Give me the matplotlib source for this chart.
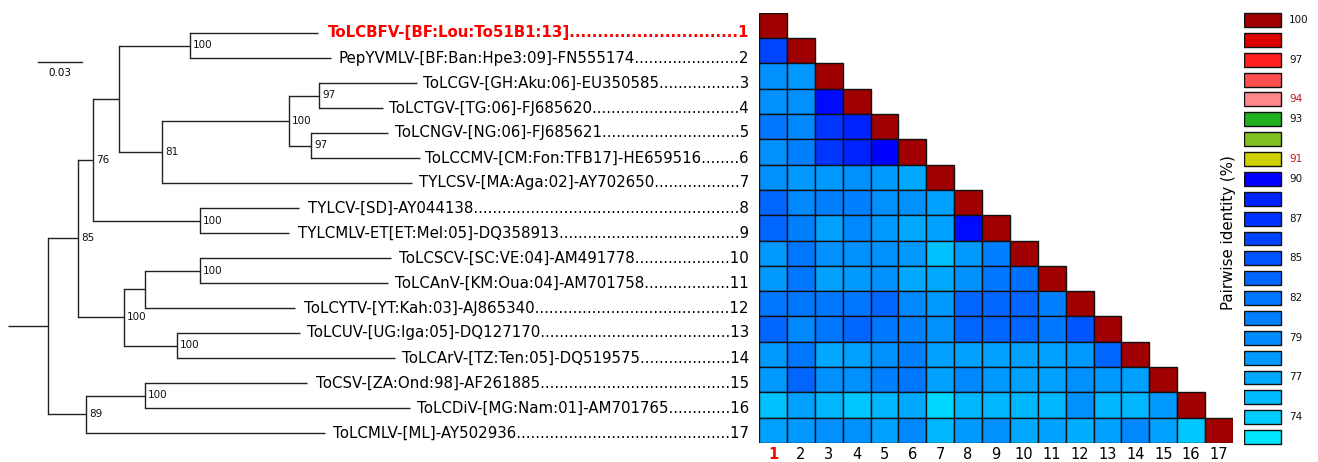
import matplotlib
matplotlib.use('Agg')
import matplotlib.pyplot as plt
import matplotlib.patches as mpatches
import matplotlib.transforms as mtransforms
from matplotlib.colors import LinearSegmentedColormap, Normalize
import numpy as np

W, H = 1318, 462

names = ['ToLCBFV-[BF:Lou:To51B1:13]', 'PepYVMLV-[BF:Ban:Hpe3:09]-FN555174',
         'ToLCGV-[GH:Aku:06]-EU350585', 'ToLCTGV-[TG:06]-FJ685620',
         'ToLCNGV-[NG:06]-FJ685621', 'ToLCCMV-[CM:Fon:TFB17]-HE659516',
         'TYLCSV-[MA:Aga:02]-AY702650', 'TYLCV-[SD]-AY044138',
         'TYLCMLV-ET[ET:Mel:05]-DQ358913', 'ToLCSCV-[SC:VE:04]-AM491778',
         'ToLCAnV-[KM:Oua:04]-AM701758', 'ToLCYTV-[YT:Kah:03]-AJ865340',
         'ToLCUV-[UG:Iga:05]-DQ127170', 'ToLCArV-[TZ:Ten:05]-DQ519575',
         'ToCSV-[ZA:Ond:98]-AF261885', 'ToLCDiV-[MG:Nam:01]-AM701765',
         'ToLCMLV-[ML]-AY502936']

# tree: leaf = (index, branch length), node = ([children], branch length, bootstrap)
tree = ([
    ([
        ([
            ([
                ([(0, 0.0873), (1, 0.0961)], 0.0484, 100),
                ([
                    ([
                        ([(2, 0.0668), (3, 0.0436)], 0.0205, 97),
                        ([(4, 0.0525), (5, 0.0743)], 0.0150, 97),
                    ], 0.0866, 100),
                    (6, 0.1705),
                ], 0.0293, 81),
            ], 0.0177, None),
            ([(7, 0.0675), (8, 0.0607)], 0.0730, 100),
        ], 0.0102, 76),
        ([
            ([
                ([(9, 0.1302), (10, 0.1282)], 0.0375, 100),
                (11, 0.1023),
            ], 0.0143, None),
            ([(12, 0.0839), (13, 0.1486)], 0.0361, 100),
        ], 0.0314, 100),
    ], 0.0205, 85),
    ([
        ([(14, 0.1105), (15, 0.1807)], 0.0402, 100),
        (16, 0.1630),
    ], 0.0259, 89),
], 0.0273, None)

# pairwise identity (%), lower triangle
identity = [
    [100],
    [86, 100],
    [78.7, 78, 100],
    [78.7, 78.7, 89.5, 100],
    [82, 79.5, 87, 88.5, 100],
    [78.7, 80.5, 87, 88.5, 90, 100],
    [78.7, 78, 78, 78.7, 78, 77.2, 100],
    [83.5, 79.5, 80.5, 80.5, 78.7, 78.7, 77.6, 100],
    [83.5, 80.5, 77.6, 79.5, 78, 77.2, 77.6, 89.5, 100],
    [78, 82, 78.7, 78.7, 78.7, 78, 75, 78, 80.5, 100],
    [78, 82, 77.6, 78, 78.7, 77.2, 77.2, 78.7, 82, 82.6, 100],
    [82, 82, 82, 82, 83.5, 79.5, 78, 83.5, 83.5, 83.5, 80.5, 100],
    [83.5, 79.5, 82, 83.5, 82, 80.5, 78.7, 83.5, 83.5, 83.5, 82, 85, 100],
    [78, 82, 77.2, 77.6, 78.7, 80.5, 77.6, 77.6, 77.6, 77.6, 77.6, 78, 83.5, 100],
    [78, 83.5, 78.7, 78.7, 80.5, 82, 77.6, 79.5, 78, 77.6, 77.6, 78.7, 78, 77.6, 100],
    [75, 77.6, 75.9, 74.5, 75.9, 77.2, 73.3, 75.9, 75.9, 75.9, 75.9, 78.7, 75.9, 75.9, 78, 100],
    [77.6, 78, 78.7, 78.7, 77.6, 79.5, 75.9, 78, 78.7, 77.2, 77.6, 76.7, 77.6, 79.5, 77.6, 74.5, 100],
]

# colour key
levels = [100, 98.5, 97, 95.5, 94, 93, 92, 91, 90, 88.5, 87, 86, 85, 83.5,
          82, 80.5, 79, 78, 77, 75.5, 74, 72.5]
level_colors = ['#a00000', '#dd0000', '#ff2020', '#ff5050', '#ff8888', '#20b020',
                '#80c020', '#d0d000', '#0000ff', '#0022ff', '#0033ff', '#0044ff',
                '#0055ff', '#0066ff', '#0077ff', '#0080ff', '#008cff', '#0099ff',
                '#00aaff', '#00bbff', '#00ccff', '#00e6ff']
level_labels = ['100', '', '97', '', '94', '93', '', '91', '90', '', '87', '',
                '85', '', '82', '', '79', '', '77', '', '74', '']

vmin, vmax = levels[-1], levels[0]
cmap = LinearSegmentedColormap.from_list(
    'pid', [((v - vmin) / (vmax - vmin), c) for v, c in zip(levels[::-1], level_colors[::-1])])
norm = Normalize(vmin, vmax)

fig = plt.figure(figsize=(W / 100, H / 100), dpi=100)
fig.set_facecolor('white')

# ---- tree ----
px_per_unit = 44 / 0.03
axt = fig.add_axes([0, 0, 757 / W, 1])
axt.set_xlim(-8 / px_per_unit, 749 / px_per_unit)
axt.set_ylim((H - 33) / 25, -33 / 25)
axt.axis('off')

lc = '#222222'
tips = {}


def draw(node, x0):
    if isinstance(node[0], int):
        idx, bl = node
        axt.plot([x0, x0 + bl], [idx, idx], color=lc, lw=1.0, solid_capstyle='butt')
        tips[idx] = x0 + bl
        return idx
    kids, bl, bs = node
    x1 = x0 + bl
    ys = [draw(k, x1) for k in kids]
    y = (ys[0] + ys[-1]) / 2
    axt.plot([x0, x1], [y, y], color=lc, lw=1.0, solid_capstyle='butt')
    axt.plot([x1, x1], [ys[0], ys[-1]], color=lc, lw=1.0, solid_capstyle='projecting')
    if bs is not None:
        axt.text(x1 + 3 / px_per_unit, y, str(bs), fontsize=7.5, va='center', ha='left', color='#111111')
    return y


draw(tree, 0)

# scale bar
sb_x = 30 / px_per_unit
axt.plot([sb_x, sb_x + 0.03], [1.16, 1.16], color=lc, lw=1.0)
axt.text(sb_x + 0.015, 1.62, '0.03', fontsize=7.5, ha='center', va='center')

# labels with dot leaders
FS = 10.8
renderer = fig.canvas.get_renderer()
trans = mtransforms.blended_transform_factory(axt.transAxes, axt.transData)
right_frac = 749 / 757


def text_w(s, **kw):
    t = axt.text(0, 0, s, fontsize=FS, **kw)
    w = t.get_window_extent(renderer).width
    t.remove()
    return w


for i, nm in enumerate(names):
    kw = dict(fontweight='bold', color='red') if i == 0 else dict(color='black')
    num = str(i + 1)
    lw_ = text_w(nm, **kw)
    nw = text_w(num, **kw)
    dw = text_w('.' * 20, **kw) / 20
    tip_px = axt.transData.transform((tips[i], i))[0]
    n = int((749 - tip_px - 5 - lw_ - nw) // dw)
    axt.text(right_frac, i, nm + '.' * n + num, transform=trans, fontsize=FS,
             ha='right', va='center', **kw)

# ---- heatmap ----
n = len(names)
axh = fig.add_axes([759 / W, (H - 443) / H, 474 / W, 430.3 / H])
for i, row in enumerate(identity):
    axh.bar(np.arange(len(row)), 1, bottom=i, width=1, align='edge',
            color=cmap(norm(np.array(row))), edgecolor='#111111', linewidth=1.0)
axh.set_xlim(0, n)
axh.set_ylim(n, 0)
for s in axh.spines.values():
    s.set_visible(False)
axh.set_yticks([])
axh.set_xticks(np.arange(n) + 0.5)
axh.set_xticklabels([str(i + 1) for i in range(n)], fontsize=10.5)
axh.tick_params(axis='x', length=0, pad=3)
first = axh.get_xticklabels()[0]
first.set_color('red')
first.set_fontweight('bold')

# ---- colour key ----
axl = fig.add_axes([1244 / W, 0, (W - 1244) / W, 1])
axl.set_xlim(0, W - 1244)
axl.set_ylim((H - 20) / 19.86, -20 / 19.86)
axl.axis('off')
for k, (c, lab) in enumerate(zip(level_colors, level_labels)):
    axl.add_patch(mpatches.Rectangle((0, k - 0.35), 37, 0.7, facecolor=c,
                                     edgecolor='#111111', lw=1.0))
    if lab:
        col = '#c0141e' if lab in ('94', '91') else '#111111'
        axl.text(45, k, lab, fontsize=7.5, va='center', ha='left', color=col)

fig.text(1228 / W, 1 - 233 / H, 'Pairwise identity (%)', rotation=90,
         fontsize=10.8, ha='center', va='center')

fig.savefig('out.png', dpi=100)
